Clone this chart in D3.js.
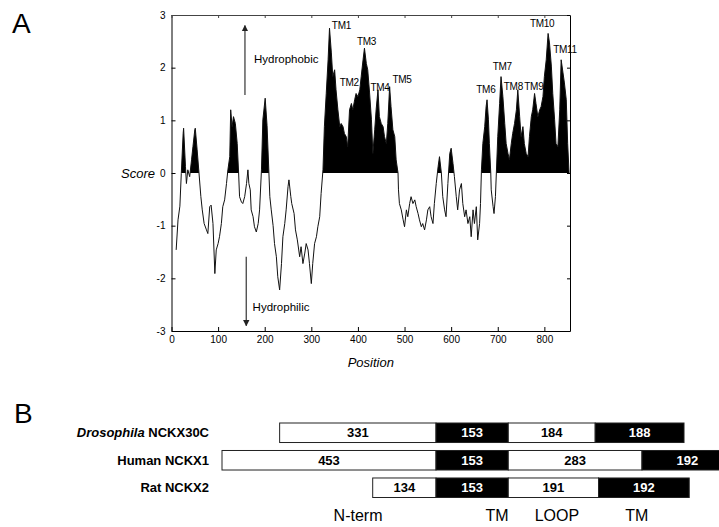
<!DOCTYPE html>
<html>
<head>
<meta charset="utf-8">
<script src="https://cdn.jsdelivr.net/npm/d3@7"></script>
<style>
  body { margin: 0; background: #fff; }
  svg { display: block; font-family: "Liberation Sans", Arial, sans-serif; }
</style>
</head>
<body>
<svg id="chart" width="719" height="527"></svg>
<script>
// ---- Panel A: hydropathy profile ----
const positions = [
  10, 14, 18, 21, 25, 26, 30, 32, 35, 39, 43, 46, 50, 51, 55, 59, 63, 66, 70, 75,
  78, 82, 85, 89, 93, 96, 100, 103, 107, 110, 114, 118, 121, 125, 127, 130, 133, 137, 141, 144,
  146, 150, 153, 157, 161, 164, 166, 169, 171, 175, 178, 182, 186, 189, 193, 196, 201, 205, 209, 211,
  214, 218, 221, 225, 228, 232, 236, 239, 243, 246, 250, 252, 256, 258, 263, 266, 270, 275, 278, 282,
  286, 289, 293, 296, 300, 303, 307, 311, 314, 318, 321, 325, 328, 332, 336, 339, 343, 346, 350, 353,
  357, 361, 364, 368, 371, 375, 378, 382, 386, 389, 393, 396, 400, 404, 407, 411, 414, 418, 421, 425,
  429, 432, 436, 439, 443, 446, 450, 454, 457, 461, 464, 468, 471, 475, 479, 482, 486, 487, 489, 493,
  497, 500, 504, 507, 511, 514, 518, 522, 525, 529, 532, 536, 539, 543, 547, 550, 554, 557, 561, 564,
  568, 572, 575, 579, 582, 586, 589, 593, 597, 600, 604, 607, 611, 614, 618, 622, 625, 629, 632, 636,
  640, 643, 647, 650, 654, 657, 661, 663, 665, 668, 672, 675, 677, 680, 682, 685, 686, 690, 692, 695,
  697, 700, 704, 707, 711, 715, 718, 722, 725, 729, 732, 736, 740, 743, 747, 750, 754, 757, 761, 765,
  768, 772, 775, 779, 782, 786, 790, 793, 797, 800, 804, 808, 811, 815, 818, 822, 825, 829, 833, 836,
  840, 843, 847, 850, 853
];
const scores = [
  -1.46, -0.89, -0.63, -0.01, 0.75, 0.85, 0.12, -0.2, 0.06, -0.07, 0.25, 0.5, 0.82, 0.85, 0.44, 0, -0.45, -0.7, -0.96, -1.08,
  -1.15, -0.64, -0.61, -0.96, -1.91, -1.46, -1.34, -1.21, -0.96, -0.64, -0.51, -0.2, 0.06, 0.31, 1.2, 0.88, 1.07, 0.94, 0.56, 0,
  -0.45, -0.55, -0.58, -0.45, -0.2, 0.06, -0.2, -0.32, -0.7, -0.83, -1.02, -1.12, -0.96, -0.7, 0.06, 1.01, 1.42, 0.9, 0, -0.45,
  -0.7, -1.0, -1.34, -1.59, -1.97, -2.22, -1.72, -1.21, -0.96, -0.7, -0.26, -0.13, -0.45, -0.58, -0.77, -1.08, -1.27, -1.59, -1.4, -1.72,
  -1.52, -1.34, -1.46, -1.72, -2.1, -1.72, -1.34, -1.21, -1.02, -0.83, -0.39, 0.06, 0.88, 1.51, 2.15, 2.75, 2.28, 1.83, 1.96, 1.58,
  1.2, 0.88, 0.94, 0.88, 0.75, 0.69, 0.5, 1.2, 1.32, 1.2, 1.39, 1.51, 1.45, 1.58, 1.83, 2.15, 2.37, 2.08, 1.96, 1.52,
  1.01, 0.37, 0.82, 1.2, 1.58, 1.07, 0.94, 0.88, 0.69, 0.56, 0.94, 1.64, 1.26, 0.82, 0.69, 0.25, 0, -0.32, -0.58, -0.7,
  -0.89, -1.02, -0.7, -0.83, -0.58, -0.45, -0.58, -0.51, -0.64, -0.77, -0.89, -1.02, -0.96, -1.08, -0.89, -0.7, -0.64, -0.83, -0.96, -0.58,
  -0.2, 0.12, 0.31, 0, -0.45, -0.7, -0.83, -0.2, 0.37, 0.47, 0.18, -0.07, -0.45, -0.7, -0.32, -0.2, -0.58, -0.83, -0.7, -0.96,
  -0.83, -1.21, -0.7, -0.96, -0.64, -1.27, -0.96, -0.58, 0.06, 0.56, 0.88, 1.26, 1.39, 1.01, 0.56, 0, -0.32, -0.64, -0.77, -0.45,
  0, 0.69, 1.32, 1.83, 1.45, 0.94, 0.56, 0.37, 0.25, 0.56, 0.75, 0.94, 1.2, 1.58, 1.07, 0.69, 0.88, 0.56, 0.37, 0.31,
  0.69, 1.07, 1.2, 1.51, 1.32, 1.07, 1.2, 1.26, 1.45, 1.83, 2.15, 2.65, 2.47, 2.03, 1.51, 1.01, 0.56, 0.5, 1.2, 2.15,
  1.9, 1.71, 1.39, 0.56, 0
];
const profile = positions.map((p, i) => ({ pos: p, score: scores[i] }));

const xTickValues = [0, 100, 200, 300, 400, 500, 600, 700, 800];
const yTickValues = [-3, -2, -1, 0, 1, 2, 3];

// TM labels, anchored in data coordinates (left edge, middle)
const tmNames = ['TM1', 'TM2', 'TM3', 'TM4', 'TM5', 'TM6', 'TM7', 'TM8', 'TM9', 'TM10', 'TM11'];
const tmLabelPos = [344, 361, 398, 427, 474, 654, 689, 713, 757, 769, 819];
const tmLabelScore = [2.81, 1.72, 2.50, 1.63, 1.77, 1.58, 2.02, 1.65, 1.64, 2.83, 2.35];

// ---- Panel B: domain lengths ----
const species = ['Drosophila NCKX30C', 'Human NCKX1', 'Rat NCKX2'];
const ntermLen = [331, 453, 134];
const tm1Len = [153, 153, 153];
const loopLen = [184, 283, 191];
const tm2Len = [188, 192, 192];
const regionNames = ['N-term', 'TM', 'LOOP', 'TM'];
const regionLabelAt = [-165, 129, 256, 425]; // residues from TM start

const svg = d3.select('#chart');

// ---------- Panel A ----------
const plot = { left: 171.5, right: 570, top: 15, bottom: 331 };

const x = d3.scaleLinear().domain([0, 855]).range([plot.left, plot.right]);
const y = d3.scaleLinear().domain([-3, 3]).range([plot.bottom, plot.top]);

svg.append('text')
  .attr('x', 12)
  .attr('y', 33)
  .attr('font-size', 28)
  .text('A');

svg.append('clipPath')
  .attr('id', 'above-zero')
  .append('rect')
  .attr('x', plot.left)
  .attr('y', plot.top)
  .attr('width', plot.right - plot.left)
  .attr('height', y(0) - plot.top);

const area = d3.area()
  .x((d) => x(d.pos))
  .y0(y(0))
  .y1((d) => y(d.score));

svg.append('path')
  .datum(profile)
  .attr('clip-path', 'url(#above-zero)')
  .attr('fill', '#000')
  .attr('d', area);

const line = d3.line()
  .x((d) => x(d.pos))
  .y((d) => y(d.score));

svg.append('path')
  .datum(profile)
  .attr('fill', 'none')
  .attr('stroke', '#111')
  .attr('stroke-width', 1)
  .attr('d', line);

function styleAxis(g, color) {
  g.attr('font-family', '"Liberation Sans", Arial, sans-serif').attr('font-size', 10);
  g.select('.domain').attr('stroke', color);
  g.selectAll('.tick line').attr('stroke', color);
  g.selectAll('.tick text').attr('fill', '#000');
}

svg.append('g')
  .attr('transform', `translate(${plot.left},0)`)
  .call(d3.axisLeft(y).tickValues(yTickValues).tickSize(-4).tickSizeOuter(0).tickPadding(6)
    .tickFormat((d) => String(d)))
  .call((g) => styleAxis(g, '#000'));

svg.append('g')
  .attr('transform', `translate(0,${plot.bottom})`)
  .call(d3.axisBottom(x).tickValues(xTickValues).tickSize(-4).tickSizeOuter(0).tickPadding(5))
  .call((g) => styleAxis(g, '#000'));

svg.append('g')
  .attr('transform', `translate(0,${plot.top})`)
  .call(d3.axisTop(x).tickValues(xTickValues).tickSize(-3).tickSizeOuter(0).tickFormat(''))
  .call((g) => styleAxis(g, '#444'));

svg.append('g')
  .attr('transform', `translate(${plot.right},0)`)
  .call(d3.axisRight(y).tickValues(yTickValues).tickSize(-3).tickSizeOuter(0).tickFormat(''))
  .call((g) => styleAxis(g, '#000'));

svg.append('text')
  .attr('x', 155)
  .attr('y', y(0))
  .attr('dy', '0.35em')
  .attr('text-anchor', 'end')
  .attr('font-size', 13)
  .attr('font-style', 'italic')
  .text('Score');

svg.append('text')
  .attr('x', (plot.left + plot.right) / 2)
  .attr('y', 367)
  .attr('text-anchor', 'middle')
  .attr('font-size', 13)
  .attr('font-style', 'italic')
  .text('Position');

// TM labels
svg.append('g')
  .selectAll('text')
  .data(tmNames)
  .join('text')
  .attr('x', (d, i) => x(tmLabelPos[i]))
  .attr('y', (d, i) => y(tmLabelScore[i]))
  .attr('dy', '0.35em')
  .attr('font-size', 10)
  .attr('letter-spacing', -0.3)
  .text((d) => d);

// hydrophobic / hydrophilic arrows
const defs = svg.append('defs');
defs.append('marker')
  .attr('id', 'head')
  .attr('viewBox', '0 0 10 10')
  .attr('refX', 9)
  .attr('refY', 5)
  .attr('markerWidth', 5)
  .attr('markerHeight', 6)
  .attr('orient', 'auto')
  .append('path')
  .attr('d', 'M0,0L10,5L0,10Z')
  .attr('fill', '#222');

const arrowLabels = ['Hydrophobic', 'Hydrophilic'];
const arrowPos = [157.6, 160.4];
const arrowFrom = [1.48, -1.59];
const arrowTo = [2.8, -2.9];
const arrowTextPos = [177, 174];
const arrowTextScore = [2.17, -2.54];

arrowLabels.forEach((label, i) => {
  svg.append('line')
    .attr('x1', x(arrowPos[i]))
    .attr('x2', x(arrowPos[i]))
    .attr('y1', y(arrowFrom[i]))
    .attr('y2', y(arrowTo[i]))
    .attr('stroke', '#444')
    .attr('stroke-width', 1.3)
    .attr('marker-end', 'url(#head)');

  svg.append('text')
    .attr('x', x(arrowTextPos[i]))
    .attr('y', y(arrowTextScore[i]))
    .attr('dy', '0.35em')
    .attr('font-size', 11.5)
    .text(label);
});

// ---------- Panel B ----------
svg.append('text')
  .attr('x', 14)
  .attr('y', 423)
  .attr('font-size', 28)
  .text('B');

const xB = d3.scaleLinear().domain([-453, 0]).range([222, 436]);
const yB = d3.scaleBand().domain(species).range([423, 497.5]).paddingInner(0.29);

const segments = species.flatMap((s, i) => {
  const lens = [ntermLen[i], tm1Len[i], loopLen[i], tm2Len[i]];
  let start = -ntermLen[i];
  return lens.map((len, k) => {
    const seg = { species: s, start, len, dark: k % 2 === 1 };
    start += len;
    return seg;
  });
});

const segG = svg.append('g')
  .selectAll('g')
  .data(segments)
  .join('g');

segG.append('rect')
  .attr('x', (d) => xB(d.start))
  .attr('y', (d) => yB(d.species))
  .attr('width', (d) => xB(d.start + d.len) - xB(d.start))
  .attr('height', yB.bandwidth())
  .attr('fill', (d) => (d.dark ? '#000' : '#fff'))
  .attr('stroke', '#222')
  .attr('stroke-width', 1);

segG.append('text')
  .attr('x', (d) => xB(d.start + d.len / 2))
  .attr('y', (d) => yB(d.species) + yB.bandwidth() / 2)
  .attr('dy', '0.36em')
  .attr('text-anchor', 'middle')
  .attr('font-size', 13)
  .attr('font-weight', 'bold')
  .attr('fill', (d) => (d.dark ? '#fff' : '#000'))
  .text((d) => d.len);

const rowLabels = svg.append('g')
  .selectAll('text')
  .data(species)
  .join('text')
  .attr('x', 209)
  .attr('y', (d) => yB(d) + yB.bandwidth() / 2)
  .attr('dy', '0.36em')
  .attr('text-anchor', 'end')
  .attr('font-size', 13)
  .attr('font-weight', 'bold');

rowLabels.each(function (d) {
  const t = d3.select(this);
  if (d.startsWith('Drosophila')) {
    t.append('tspan').attr('font-style', 'italic').text('Drosophila');
    t.append('tspan').text(' ' + d.slice('Drosophila '.length));
  } else {
    t.text(d);
  }
});

svg.append('g')
  .selectAll('text')
  .data(regionNames)
  .join('text')
  .attr('x', (d, i) => xB(regionLabelAt[i]))
  .attr('y', 521)
  .attr('text-anchor', 'middle')
  .attr('font-size', 16)
  .text((d) => d);
</script>
</body>
</html>
